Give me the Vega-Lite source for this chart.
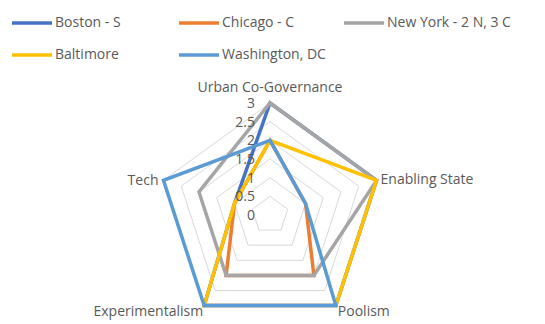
{
  "$schema": "https://vega.github.io/schema/vega-lite/v6.json",
  "width": 545,
  "height": 324,
  "autosize": "none",
  "padding": 0,
  "background": "white",
  "config": {"view": {"stroke": null}, "font": "Open Sans"},
  "datasets": {
    "scores": [
      {"city": "Boston - S", "dim": "Urban Co-Governance", "value": 3},
      {"city": "Boston - S", "dim": "Enabling State", "value": 3},
      {"city": "Boston - S", "dim": "Poolism", "value": 3},
      {"city": "Boston - S", "dim": "Experimentalism", "value": 3},
      {"city": "Boston - S", "dim": "Tech", "value": 1},
      {"city": "Chicago - C", "dim": "Urban Co-Governance", "value": 2},
      {"city": "Chicago - C", "dim": "Enabling State", "value": 1},
      {"city": "Chicago - C", "dim": "Poolism", "value": 2},
      {"city": "Chicago - C", "dim": "Experimentalism", "value": 2},
      {"city": "Chicago - C", "dim": "Tech", "value": 1},
      {"city": "New York - 2 N, 3 C", "dim": "Urban Co-Governance", "value": 3},
      {"city": "New York - 2 N, 3 C", "dim": "Enabling State", "value": 3},
      {"city": "New York - 2 N, 3 C", "dim": "Poolism", "value": 2},
      {"city": "New York - 2 N, 3 C", "dim": "Experimentalism", "value": 2},
      {"city": "New York - 2 N, 3 C", "dim": "Tech", "value": 2},
      {"city": "Baltimore", "dim": "Urban Co-Governance", "value": 2},
      {"city": "Baltimore", "dim": "Enabling State", "value": 3},
      {"city": "Baltimore", "dim": "Poolism", "value": 3},
      {"city": "Baltimore", "dim": "Experimentalism", "value": 3},
      {"city": "Baltimore", "dim": "Tech", "value": 1},
      {"city": "Washington, DC", "dim": "Urban Co-Governance", "value": 2},
      {"city": "Washington, DC", "dim": "Enabling State", "value": 1},
      {"city": "Washington, DC", "dim": "Poolism", "value": 3},
      {"city": "Washington, DC", "dim": "Experimentalism", "value": 3},
      {"city": "Washington, DC", "dim": "Tech", "value": 3}
    ],
    "grid": [
      {"level": 0.5, "k": [0, 1, 2, 3, 4]},
      {"level": 1, "k": [0, 1, 2, 3, 4]},
      {"level": 1.5, "k": [0, 1, 2, 3, 4]},
      {"level": 2, "k": [0, 1, 2, 3, 4]},
      {"level": 2.5, "k": [0, 1, 2, 3, 4]},
      {"level": 3, "k": [0, 1, 2, 3, 4]}
    ],
    "ticks": [
      {"level": 0}, {"level": 0.5}, {"level": 1}, {"level": 1.5},
      {"level": 2}, {"level": 2.5}, {"level": 3}
    ],
    "dims": [
      {"dim": "Urban Co-Governance", "k": 0, "r": 3},
      {"dim": "Enabling State", "k": 1, "r": 3},
      {"dim": "Poolism", "k": 2, "r": 3},
      {"dim": "Experimentalism", "k": 3, "r": 3},
      {"dim": "Tech", "k": 4, "r": 3}
    ]
  },
  "layer": [
    {
      "data": {"name": "grid"},
      "transform": [
        {"flatten": ["k"]},
        {"calculate": "PI/2 - datum.k*2*PI/5", "as": "ang"},
        {"calculate": "datum.level*cos(datum.ang)", "as": "x"},
        {"calculate": "datum.level*sin(datum.ang)", "as": "y"}
      ],
      "mark": {"type": "line", "interpolate": "linear-closed", "color": "#D9D9D9", "strokeWidth": 1},
      "encoding": {
        "x": {"field": "x", "type": "quantitative", "scale": {"domain": [-7.232, 7.366], "nice": false, "zero": false}, "axis": null},
        "y": {"field": "y", "type": "quantitative", "scale": {"domain": [-2.92, 5.759], "nice": false, "zero": false}, "axis": null},
        "detail": {"field": "level", "type": "nominal"},
        "order": {"field": "k", "type": "quantitative"}
      }
    },
    {
      "data": {"name": "scores"},
      "transform": [
        {"calculate": "indexof(['Urban Co-Governance','Enabling State','Poolism','Experimentalism','Tech'], datum.dim)", "as": "k"},
        {"calculate": "PI/2 - datum.k*2*PI/5", "as": "ang"},
        {"calculate": "datum.value*cos(datum.ang)", "as": "x"},
        {"calculate": "datum.value*sin(datum.ang)", "as": "y"}
      ],
      "mark": {"type": "line", "interpolate": "linear-closed", "strokeWidth": 3.5, "strokeJoin": "miter"},
      "encoding": {
        "x": {"field": "x", "type": "quantitative"},
        "y": {"field": "y", "type": "quantitative"},
        "order": {"field": "k", "type": "quantitative"},
        "color": {
          "field": "city",
          "type": "nominal",
          "sort": ["Boston - S", "Chicago - C", "New York - 2 N, 3 C", "Baltimore", "Washington, DC"],
          "scale": {
            "domain": ["Boston - S", "Chicago - C", "New York - 2 N, 3 C", "Baltimore", "Washington, DC"],
            "range": ["#4472C4", "#ED7D31", "#A5A5A5", "#FFC000", "#5B9BD5"]
          },
          "legend": {
            "title": null,
            "orient": "none",
            "legendX": 10,
            "legendY": 1,
            "direction": "horizontal",
            "columns": 3,
            "gridAlign": "each",
            "padding": 0,
            "symbolType": "stroke",
            "symbolSize": 1600,
            "symbolStrokeWidth": 3.5,
            "labelFontSize": 14,
            "labelFont": "Open Sans",
            "labelColor": "#595959",
            "labelOffset": 1,
            "labelLimit": 300,
            "columnPadding": 11,
            "rowPadding": 3,
            "labelExpr": "datum.label == 'Boston - S' ? datum.label + '\u00a0\u00a0\u00a0\u00a0\u00a0\u00a0\u00a0\u00a0\u00a0\u00a0\u00a0\u200b' : datum.label"
          }
        }
      }
    },
    {
      "data": {"name": "ticks"},
      "transform": [{"calculate": "0", "as": "x"}],
      "mark": {"type": "text", "align": "right", "baseline": "middle", "dx": -15, "dy": 1, "fontSize": 14, "color": "#595959", "font": "Open Sans"},
      "encoding": {
        "x": {"field": "x", "type": "quantitative"},
        "y": {"field": "level", "type": "quantitative"},
        "text": {"field": "level", "type": "nominal"}
      }
    },
    {
      "data": {"name": "dims"},
      "transform": [
        {"filter": "datum.k == 0"},
        {"calculate": "PI/2 - datum.k*2*PI/5", "as": "ang"},
        {"calculate": "datum.r*cos(datum.ang)", "as": "x"},
        {"calculate": "datum.r*sin(datum.ang)", "as": "y"}
      ],
      "mark": {"type": "text", "align": "center", "baseline": "middle", "dy": -15, "fontSize": 14, "color": "#595959", "font": "Open Sans"},
      "encoding": {"x": {"field": "x", "type": "quantitative"}, "y": {"field": "y", "type": "quantitative"}, "text": {"field": "dim"}}
    },
    {
      "data": {"name": "dims"},
      "transform": [
        {"filter": "datum.k == 1"},
        {"calculate": "PI/2 - datum.k*2*PI/5", "as": "ang"},
        {"calculate": "datum.r*cos(datum.ang)", "as": "x"},
        {"calculate": "datum.r*sin(datum.ang)", "as": "y"}
      ],
      "mark": {"type": "text", "align": "left", "baseline": "middle", "dx": 4, "fontSize": 14, "color": "#595959", "font": "Open Sans"},
      "encoding": {"x": {"field": "x", "type": "quantitative"}, "y": {"field": "y", "type": "quantitative"}, "text": {"field": "dim"}}
    },
    {
      "data": {"name": "dims"},
      "transform": [
        {"filter": "datum.k == 2"},
        {"calculate": "PI/2 - datum.k*2*PI/5", "as": "ang"},
        {"calculate": "datum.r*cos(datum.ang)", "as": "x"},
        {"calculate": "datum.r*sin(datum.ang)", "as": "y"}
      ],
      "mark": {"type": "text", "align": "left", "baseline": "middle", "dx": 2, "dy": 6, "fontSize": 14, "color": "#595959", "font": "Open Sans"},
      "encoding": {"x": {"field": "x", "type": "quantitative"}, "y": {"field": "y", "type": "quantitative"}, "text": {"field": "dim"}}
    },
    {
      "data": {"name": "dims"},
      "transform": [
        {"filter": "datum.k == 3"},
        {"calculate": "PI/2 - datum.k*2*PI/5", "as": "ang"},
        {"calculate": "datum.r*cos(datum.ang)", "as": "x"},
        {"calculate": "datum.r*sin(datum.ang)", "as": "y"}
      ],
      "mark": {"type": "text", "align": "right", "baseline": "middle", "dx": -1, "dy": 6, "fontSize": 14, "color": "#595959", "font": "Open Sans"},
      "encoding": {"x": {"field": "x", "type": "quantitative"}, "y": {"field": "y", "type": "quantitative"}, "text": {"field": "dim"}}
    },
    {
      "data": {"name": "dims"},
      "transform": [
        {"filter": "datum.k == 4"},
        {"calculate": "PI/2 - datum.k*2*PI/5", "as": "ang"},
        {"calculate": "datum.r*cos(datum.ang)", "as": "x"},
        {"calculate": "datum.r*sin(datum.ang)", "as": "y"}
      ],
      "mark": {"type": "text", "align": "right", "baseline": "middle", "dx": -5, "dy": 1, "fontSize": 14, "color": "#595959", "font": "Open Sans"},
      "encoding": {"x": {"field": "x", "type": "quantitative"}, "y": {"field": "y", "type": "quantitative"}, "text": {"field": "dim"}}
    }
  ]
}
